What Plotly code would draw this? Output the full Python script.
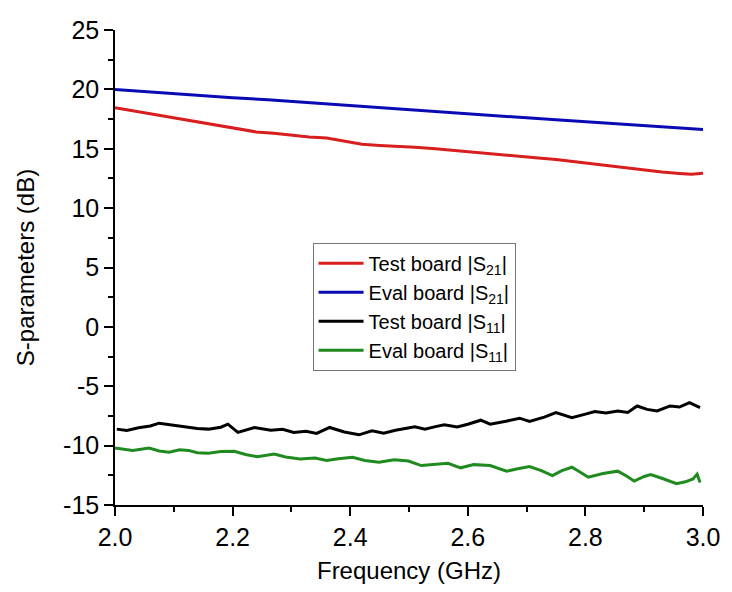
import plotly.graph_objects as go

# Measured S-parameters (dB) versus frequency (GHz)
freq_test_s21 = [2.00, 2.03, 2.06, 2.09, 2.12, 2.15, 2.18, 2.21, 2.24, 2.27, 2.30, 2.33, 2.36,
                 2.39, 2.42, 2.45, 2.48, 2.51, 2.54, 2.57, 2.60, 2.63, 2.66, 2.69, 2.72,
                 2.75, 2.78, 2.81, 2.84, 2.87, 2.90, 2.93, 2.96, 2.98, 3.00]
test_s21 = [18.45, 18.20, 17.95, 17.70, 17.42, 17.20, 16.95, 16.72, 16.42, 16.30, 16.12, 15.98, 15.90,
            15.62, 15.38, 15.28, 15.22, 15.12, 15.02, 14.88, 14.72, 14.58, 14.46, 14.36, 14.22,
            14.10, 13.92, 13.75, 13.58, 13.38, 13.22, 13.05, 12.92, 12.85, 12.93]

freq_eval_s21 = [2.00, 2.05, 2.10, 2.15, 2.20, 2.26, 2.30, 2.35, 2.40, 2.45, 2.51, 2.55, 2.60,
                 2.65, 2.70, 2.75, 2.80, 2.85, 2.90, 2.95, 2.98, 3.00]
eval_s21 = [19.98, 19.80, 19.62, 19.45, 19.30, 19.12, 18.98, 18.80, 18.62, 18.45, 18.22, 18.08, 17.92,
            17.76, 17.60, 17.45, 17.28, 17.12, 16.95, 16.78, 16.66, 16.62]

freq_test_s11 = [2.003, 2.02, 2.04, 2.06, 2.075, 2.10, 2.12, 2.14, 2.159, 2.18, 2.192, 2.209, 2.237,
                 2.265, 2.285, 2.304, 2.325, 2.343, 2.365, 2.39, 2.415, 2.437, 2.457, 2.477,
                 2.51, 2.527, 2.545, 2.56, 2.582, 2.60, 2.622, 2.638, 2.665, 2.688, 2.705,
                 2.73, 2.75, 2.777, 2.80, 2.816, 2.835, 2.855, 2.872, 2.888, 2.905, 2.922,
                 2.944, 2.96, 2.977, 2.995]
test_s11 = [-8.61, -8.72, -8.50, -8.35, -8.11, -8.30, -8.39, -8.55, -8.61, -8.45, -8.19, -8.89, -8.47,
            -8.70, -8.62, -8.89, -8.80, -8.97, -8.47, -8.85, -9.09, -8.75, -8.95, -8.70,
            -8.42, -8.61, -8.40, -8.25, -8.42, -8.20, -7.86, -8.19, -7.95, -7.69, -7.97,
            -7.60, -7.22, -7.64, -7.35, -7.13, -7.25, -7.08, -7.20, -6.66, -6.95, -7.08,
            -6.66, -6.75, -6.38, -6.80]

freq_eval_s11 = [2.00, 2.03, 2.058, 2.075, 2.092, 2.11, 2.125, 2.14, 2.159, 2.18, 2.203, 2.222, 2.242,
                 2.271, 2.29, 2.315, 2.34, 2.36, 2.38, 2.404, 2.425, 2.449, 2.475, 2.499,
                 2.521, 2.545, 2.566, 2.588, 2.61, 2.638, 2.666, 2.685, 2.705, 2.725, 2.744,
                 2.76, 2.777, 2.79, 2.805, 2.83, 2.855, 2.87, 2.883, 2.90, 2.911, 2.93,
                 2.955, 2.97, 2.983, 2.99, 2.995]
eval_s11 = [-10.20, -10.40, -10.20, -10.45, -10.56, -10.35, -10.40, -10.60, -10.65, -10.50, -10.47, -10.75, -10.93,
            -10.70, -10.95, -11.12, -11.05, -11.26, -11.10, -10.98, -11.25, -11.40, -11.20, -11.30,
            -11.68, -11.55, -11.49, -11.87, -11.60, -11.68, -12.15, -11.95, -11.77, -12.10, -12.52,
            -12.10, -11.82, -12.20, -12.66, -12.35, -12.15, -12.55, -12.99, -12.60, -12.43, -12.75,
            -13.21, -13.05, -12.80, -12.40, -13.10]

# Axis tick positions and labels (plain hyphen for negatives)
y_tickvals = [-15, -10, -5, 0, 5, 10, 15, 20, 25]
y_ticktext = ["-15", "-10", "-5", "0", "5", "10", "15", "20", "25"]
x_tickvals = [2.0, 2.2, 2.4, 2.6, 2.8, 3.0]
x_ticktext = ["2.0", "2.2", "2.4", "2.6", "2.8", "3.0"]

series = [
    ("Test board |S<sub>21</sub>|", freq_test_s21, test_s21, "#d81e1e"),
    ("Eval board |S<sub>21</sub>|", freq_eval_s21, eval_s21, "#0a0ab4"),
    ("Test board |S<sub>11</sub>|", freq_test_s11, test_s11, "#000000"),
    ("Eval board |S<sub>11</sub>|", freq_eval_s11, eval_s11, "#1f8a1f"),
]

FONT = "Liberation Sans, Arial, sans-serif"

fig = go.Figure()
for name, f, v, color in series:
    fig.add_trace(go.Scatter(x=f, y=v, mode="lines", name=name,
                             line=dict(color=color, width=3)))

axis_common = dict(
    showline=True, linecolor="black", linewidth=1.5,
    ticks="outside", ticklen=9, tickwidth=1.5, tickcolor="black",
    showgrid=False, zeroline=False, mirror=False,
    tickfont=dict(family=FONT, size=25, color="black"),
)

fig.update_xaxes(
    range=[2.0, 3.0], tickmode="array", tickvals=x_tickvals, ticktext=x_ticktext,
    minor=dict(dtick=0.1, tick0=2.0, ticks="outside", ticklen=5, tickwidth=1.5, tickcolor="black", showgrid=False),
    title=dict(text="Frequency (GHz)", font=dict(family=FONT, size=24, color="black"), standoff=12),
    **axis_common,
)
fig.update_yaxes(
    range=[-15, 25], tickmode="array", tickvals=y_tickvals, ticktext=y_ticktext,
    minor=dict(dtick=2.5, tick0=0, ticks="outside", ticklen=5, tickwidth=1.5, tickcolor="black", showgrid=False),
    title=dict(text="S-parameters (dB)", font=dict(family=FONT, size=24, color="black"), standoff=22),
    **axis_common,
)

fig.update_layout(
    width=732, height=592,
    margin=dict(l=115, r=19, t=30, b=84),
    plot_bgcolor="white", paper_bgcolor="white",
    font=dict(family=FONT, color="black"),
    legend=dict(
        x=0.336, y=0.552, xanchor="left", yanchor="top",
        bgcolor="white", bordercolor="#777777", borderwidth=1,
        font=dict(family=FONT, size=20, color="black"),
        itemwidth=45, tracegroupgap=0,
    ),
    showlegend=True,
)

fig.write_html("out.html")
